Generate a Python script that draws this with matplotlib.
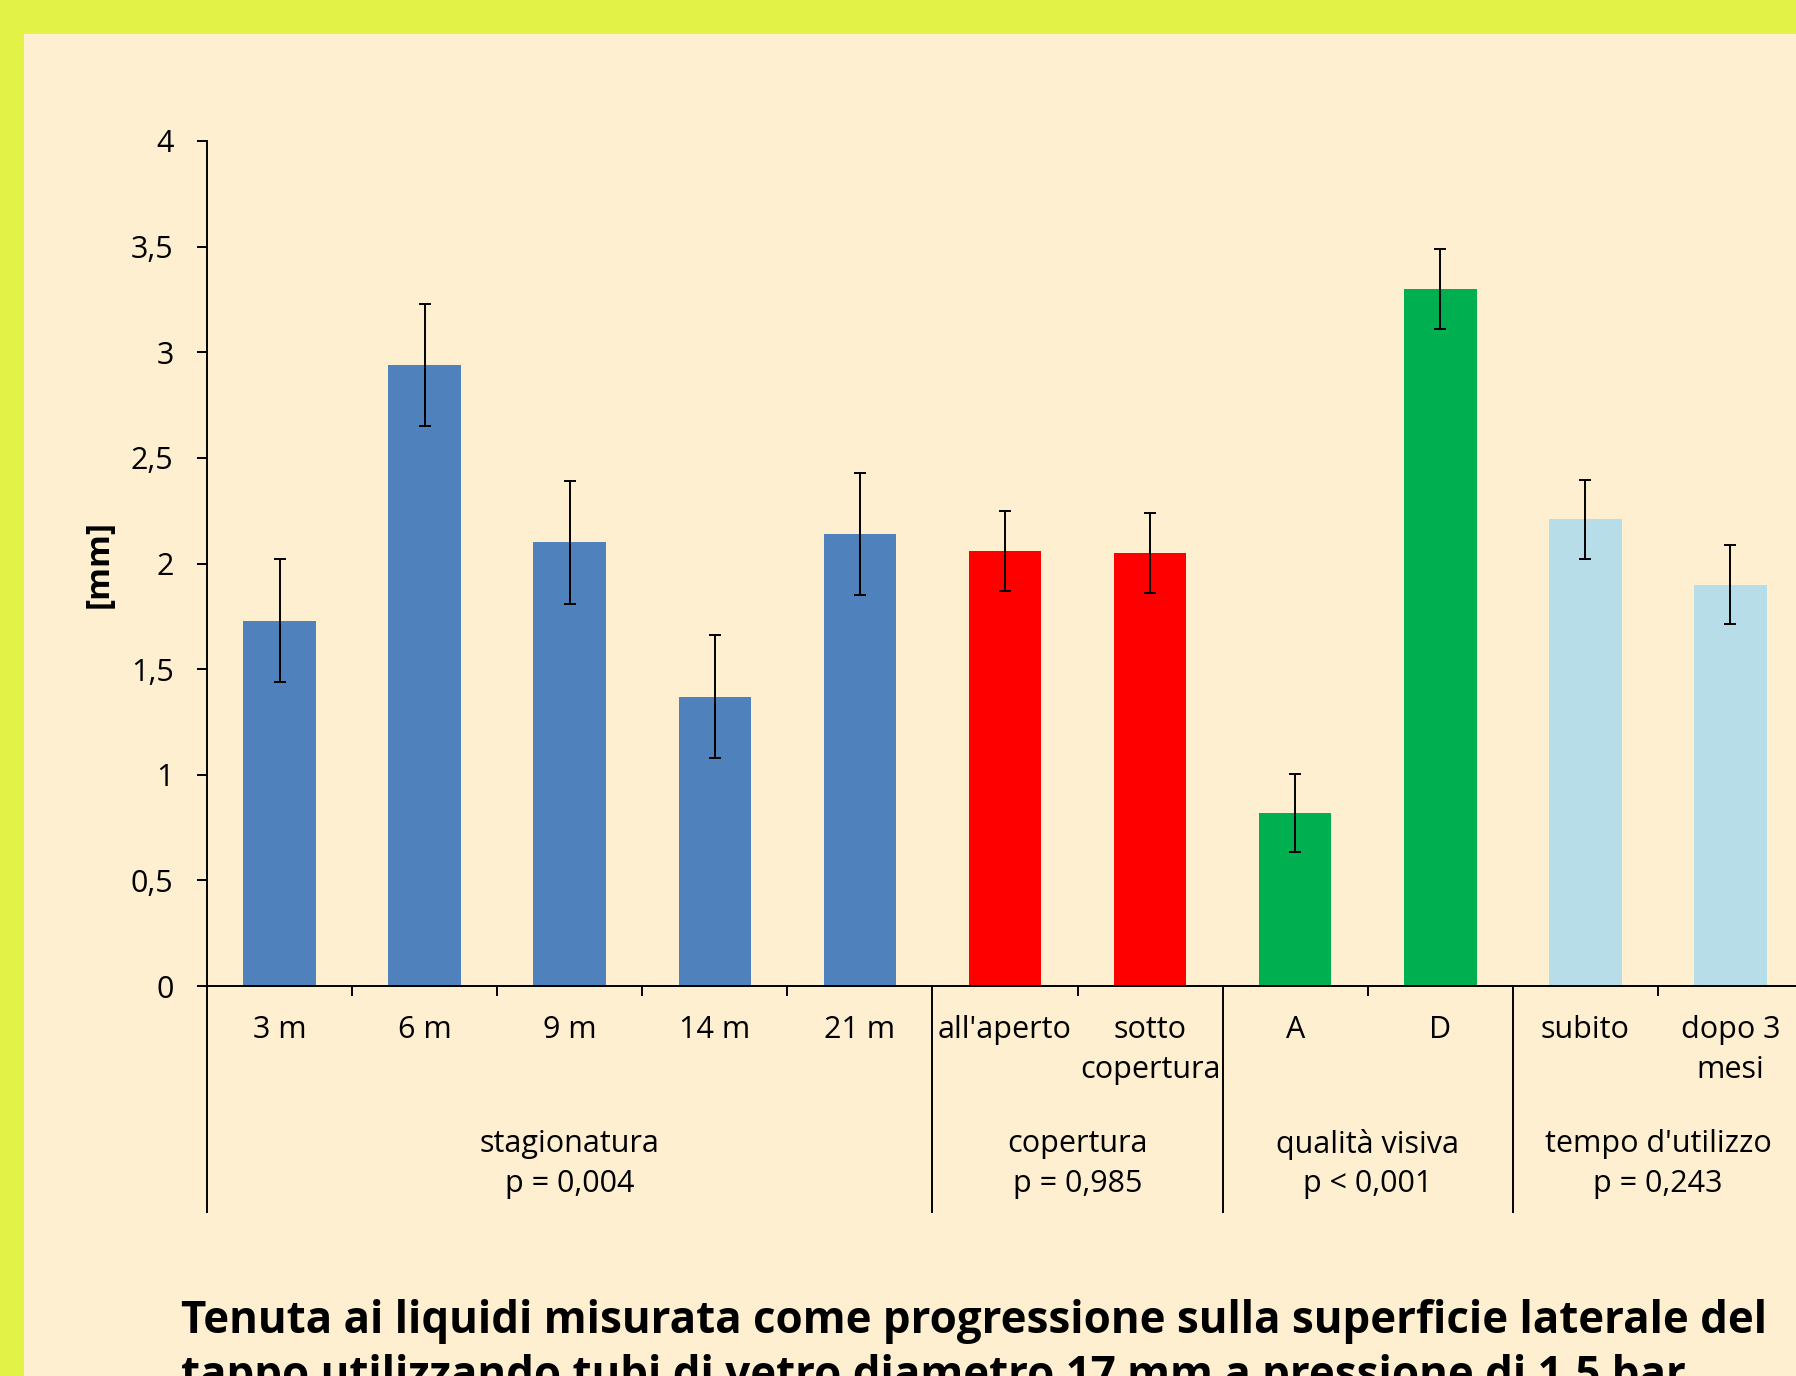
import matplotlib.pyplot as plt
from matplotlib.patches import Rectangle

# valori
categorie = ["3 m", "6 m", "9 m", "14 m", "21 m", "all'aperto", "sotto\ncopertura",
             "A", "D", "subito", "dopo 3\nmesi"]
valori = [1.73, 2.94, 2.10, 1.37, 2.14, 2.06, 2.05, 0.82, 3.30, 2.21, 1.90]
errori = [0.29, 0.29, 0.29, 0.29, 0.29, 0.19, 0.19, 0.185, 0.19, 0.187, 0.187]
gruppi = ["stagionatura\np = 0,004", "copertura\np = 0,985",
          "qualità visiva\np < 0,001", "tempo d'utilizzo\np = 0,243"]
dimensione_gruppi = [5, 2, 2, 2]
colori_gruppi = ['#4F81BD', '#FF0000', '#00B050', '#B7DDE8']
yticks = [0, 0.5, 1, 1.5, 2, 2.5, 3, 3.5, 4]
ytick_labels = ["0", "0,5", "1", "1,5", "2", "2,5", "3", "3,5", "4"]
titolo = ("Tenuta ai liquidi misurata come progressione sulla superficie laterale del\n"
          "tappo utilizzando tubi di vetro diametro 17 mm a pressione di 1,5 bar")

cream = '#FEEFD1'
yellow = '#E2F246'

plt.rcParams['font.family'] = ['Open Sans', 'DejaVu Sans']

W, H = 1796, 1376
fig = plt.figure(figsize=(W / 100, H / 100), dpi=100)
fig.patch.set_facecolor(yellow)
fig.patches.append(Rectangle((24 / W, 0), 1, (H - 34) / H, transform=fig.transFigure,
                             facecolor=cream, edgecolor='none', zorder=-5))

ax = fig.add_axes([207 / W, (H - 986) / H, 1596 / W, 845 / H])
ax.set_facecolor('none')
ax.set_zorder(2)

colori = []
for c, n in zip(colori_gruppi, dimensione_gruppi):
    colori += [c] * n

x = list(range(len(categorie)))
ax.bar(x, valori, width=0.5, color=colori, zorder=2)
ax.errorbar(x, valori, yerr=errori, fmt='none', ecolor='black', elinewidth=1.4,
            capsize=4, capthick=1.4, zorder=3)

ax.set_xlim(-0.5, len(categorie) - 0.5)
ax.set_ylim(0, 4)
ax.set_yticks(yticks)
ax.set_yticklabels(ytick_labels, fontsize=22)
ax.tick_params(axis='y', length=7, width=1.4, pad=17)
ax.set_ylabel('[mm]', fontsize=24, fontweight='bold', labelpad=11)

ax.set_xticks(x)
ax.set_xticklabels(categorie, fontsize=22, linespacing=1.41)
ax.tick_params(axis='x', which='major', length=0, pad=21)

# separatori tra le categorie e tra i gruppi
confini = []
pos = -0.5
for n in dimensione_gruppi:
    confini.append(pos)
    pos += n
minori = [i + 0.5 for i in range(len(categorie) - 1) if i + 0.5 not in confini]
ax.set_xticks(minori, minor=True)
ax.tick_params(axis='x', which='minor', length=7, width=1.4)

trans = ax.get_xaxis_transform()
for b in confini:
    ax.plot([b, b], [0, -0.2675], transform=trans, color='black', lw=1.4, clip_on=False)

pos = -0.5
for g, n in zip(gruppi, dimensione_gruppi):
    ax.text(pos + n / 2, -0.2105, g, transform=trans, ha='center', va='center',
            fontsize=22, linespacing=1.41)
    pos += n

for s in ['top', 'right']:
    ax.spines[s].set_visible(False)
for s in ['left', 'bottom']:
    ax.spines[s].set_linewidth(1.4)

fig.text(181 / W, 1 - 1299 / H, titolo, ha='left', va='top', fontsize=31.6,
         fontweight='bold', linespacing=1.28)

fig.savefig('out.png', dpi=100, facecolor=fig.get_facecolor())
